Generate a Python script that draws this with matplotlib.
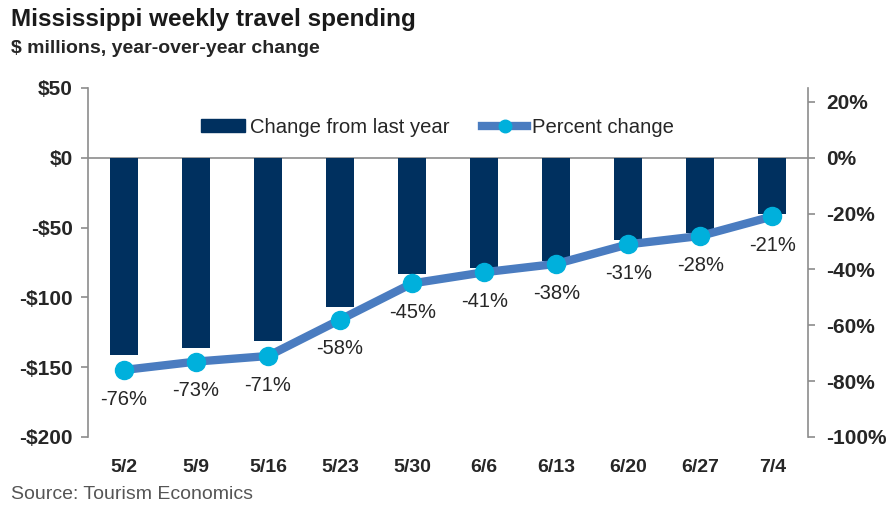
import matplotlib.pyplot as plt
from matplotlib.lines import Line2D
from matplotlib.patches import Patch

plt.rcParams['font.family'] = ['Liberation Sans', 'DejaVu Sans']

weeks = ["5/2", "5/9", "5/16", "5/23", "5/30", "6/6", "6/13", "6/20", "6/27", "7/4"]
change_musd = [-141, -136, -131, -107, -83, -79, -74, -59, -54, -40]   # $ millions
pct_change = [-76, -73, -71, -58, -45, -41, -38, -31, -28, -21]       # %

navy = "#00305f"
line_clr = "#4a7cc0"
dot_clr = "#00b0dc"
axis_gray = "#8c8c8c"
txt = "#262626"

fig = plt.figure(figsize=(8.93, 5.08), dpi=100)
ax = fig.add_axes([0.0985, 0.1398, 0.8067, 0.687])
ax2 = ax.twinx()

x = list(range(len(weeks)))
ax.bar(x, change_musd, width=0.39, color=navy, zorder=2)
ax.axhline(0, color=axis_gray, lw=1.2, zorder=1)
ax.set_xlim(-0.5, len(weeks) - 0.5)
ax.set_ylim(-200, 50)
ax.set_yticks([50, 0, -50, -100, -150, -200])
ax.set_yticklabels(["$50", "$0", "-$50", "-$100", "-$150", "-$200"])

ax2.plot(x, pct_change, color=line_clr, lw=6, marker="o", markersize=13,
         markerfacecolor=dot_clr, markeredgecolor=dot_clr, zorder=3)
ax2.set_ylim(-100, 25)
ax2.set_yticks([20, 0, -20, -40, -60, -80, -100])
ax2.set_yticklabels([str(v) + "%" for v in [20, 0, -20, -40, -60, -80, -100]])
for xi, p in zip(x, pct_change):
    ax2.annotate(str(p) + "%", (xi, p), xytext=(0, -21), textcoords="offset points",
                 ha="center", va="center", fontsize=14.5, color=txt)

for a in (ax, ax2):
    for s in ("top", "bottom"):
        a.spines[s].set_visible(False)
    a.spines["left"].set_color(axis_gray)
    a.spines["right"].set_color(axis_gray)
    a.spines["left"].set_linewidth(1.2)
    a.spines["right"].set_linewidth(1.2)
    a.tick_params(axis="y", colors=axis_gray, length=5, width=1.2, labelcolor=txt,
                  labelsize=15)
    for lab in a.get_yticklabels():
        lab.set_fontweight("bold")
ax.spines["right"].set_visible(False)
ax2.spines["left"].set_visible(False)
ax.tick_params(axis="y", pad=6)
ax2.tick_params(axis="y", pad=8)

ax.set_xticks(x)
ax.set_xticklabels(weeks, fontsize=14, fontweight="bold", color=txt)
ax.tick_params(axis="x", length=0, pad=16)

handles = [Patch(color=navy),
           Line2D([0], [0], color=line_clr, lw=6, marker="o", markersize=9,
                  markerfacecolor=dot_clr, markeredgecolor=dot_clr)]
ax.legend(handles, ["Change from last year", "Percent change"], ncol=2, frameon=False,
          loc="center", bbox_to_anchor=(0.485, 0.888), fontsize=14.6,
          handlelength=2.2, handleheight=0.55, handletextpad=0.25, columnspacing=1.6,
          labelcolor=txt)

fig.text(0.012, 0.962, "Mississippi weekly travel spending", fontsize=17.5,
         fontweight="bold", color="#1a1a1a", va="center")
fig.text(0.012, 0.905, "$ millions, year-over-year change", fontsize=14,
         fontweight="bold", color="#262626", va="center")
fig.text(0.012, 0.026, "Source: Tourism Economics", fontsize=14, color="#555555",
         va="center")

fig.savefig("out.png", dpi=100)
